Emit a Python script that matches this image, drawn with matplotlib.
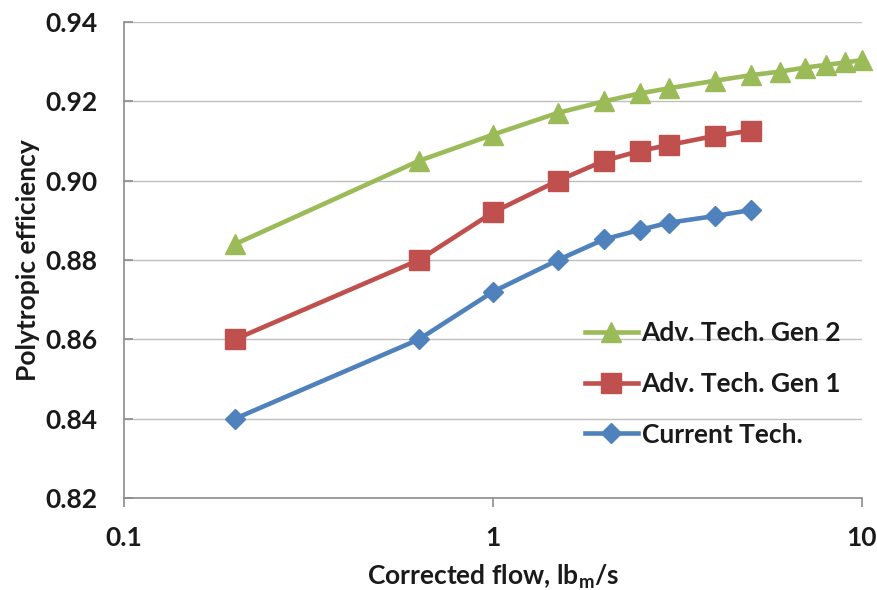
import numpy as np
import matplotlib
matplotlib.use("Agg")
import matplotlib.pyplot as plt

# corrected flow, lbm/s
flow_gen2 = [0.2, 0.63, 1, 1.5, 2, 2.5, 3, 4, 5, 6, 7, 8, 9, 10]
flow_gen1 = [0.2, 0.63, 1, 1.5, 2, 2.5, 3, 4, 5]
flow_cur = [0.2, 0.63, 1, 1.5, 2, 2.5, 3, 4, 5]

# polytropic efficiency
eff_gen2 = [0.884, 0.905, 0.9116, 0.9171, 0.920, 0.922, 0.9233, 0.9252,
            0.9266, 0.9275, 0.9285, 0.9292, 0.9298, 0.9304]
eff_gen1 = [0.860, 0.880, 0.892, 0.900, 0.905, 0.9075, 0.909, 0.9113, 0.9126]
eff_cur = [0.840, 0.860, 0.872, 0.880, 0.8852, 0.8876, 0.8894, 0.8911, 0.8926]

labels = ["Adv. Tech. Gen 2", "Adv. Tech. Gen 1", "Current Tech."]
colors = ["#9BBB59", "#C0504D", "#4F81BD"]
yticks = [0.82, 0.84, 0.86, 0.88, 0.90, 0.92, 0.94]

plt.rcParams["font.family"] = ["Lato", "DejaVu Sans"]
plt.rcParams["font.weight"] = "bold"
plt.rcParams["axes.labelweight"] = "bold"
plt.rcParams["mathtext.fontset"] = "custom"
plt.rcParams["mathtext.rm"] = "Lato:bold"
plt.rcParams["mathtext.it"] = "Lato:bold"

fs = 19
txt = "#1A1A1A"

fig = plt.figure(figsize=(8.78, 5.90), dpi=100)
ax = fig.add_axes([0.1412, 0.1559, 0.8405, 0.8068])

ax.plot(flow_gen2, eff_gen2, color=colors[0], lw=3.3, marker="^", ms=14,
        label=labels[0], clip_on=False)
ax.plot(flow_gen1, eff_gen1, color=colors[1], lw=3.3, marker="s", ms=14,
        label=labels[1], clip_on=False)
ax.plot(flow_cur, eff_cur, color=colors[2], lw=3.3, marker="D", ms=10,
        label=labels[2], clip_on=False)

ax.set_xscale("log")
ax.set_xlim(0.1, 10)
ax.set_ylim(0.82, 0.94)
ax.set_xticks([0.1, 1, 10])
ax.set_xticklabels(["0.1", "1", "10"], fontweight="bold")
ax.xaxis.set_minor_locator(matplotlib.ticker.NullLocator())
ax.set_yticks(yticks)
ax.set_yticklabels([f"{v:.2f}" for v in yticks], fontweight="bold")

ax.grid(axis="y", color="#BFBFBF", lw=1)
ax.set_axisbelow(True)
for s in ["top", "right"]:
    ax.spines[s].set_visible(False)
for s in ["left", "bottom"]:
    ax.spines[s].set_color("#8C8C8C")
    ax.spines[s].set_linewidth(1.2)
ax.tick_params(axis="x", direction="out", colors="#8C8C8C", length=6.5,
               width=1.2, labelcolor=txt, labelsize=fs, pad=14)
ax.tick_params(axis="y", direction="in", colors="#8C8C8C", length=6.5,
               width=1.2, labelcolor=txt, labelsize=fs, pad=19)

ax.set_xlabel("Corrected flow, lb$_\\mathrm{m}$/s", fontsize=fs,
              fontweight="bold", color=txt, labelpad=9)
ax.set_ylabel("Polytropic efficiency", fontsize=fs, fontweight="bold",
              color=txt, labelpad=4)

ax.legend(loc="upper left", bbox_to_anchor=(0.654, 0.474),
          bbox_transform=fig.transFigure, borderaxespad=0, frameon=False,
          prop={"size": fs, "weight": "bold"}, labelspacing=1.02,
          handlelength=2.0, handletextpad=0.15, labelcolor=txt)

fig.savefig("out.png", dpi=100)
